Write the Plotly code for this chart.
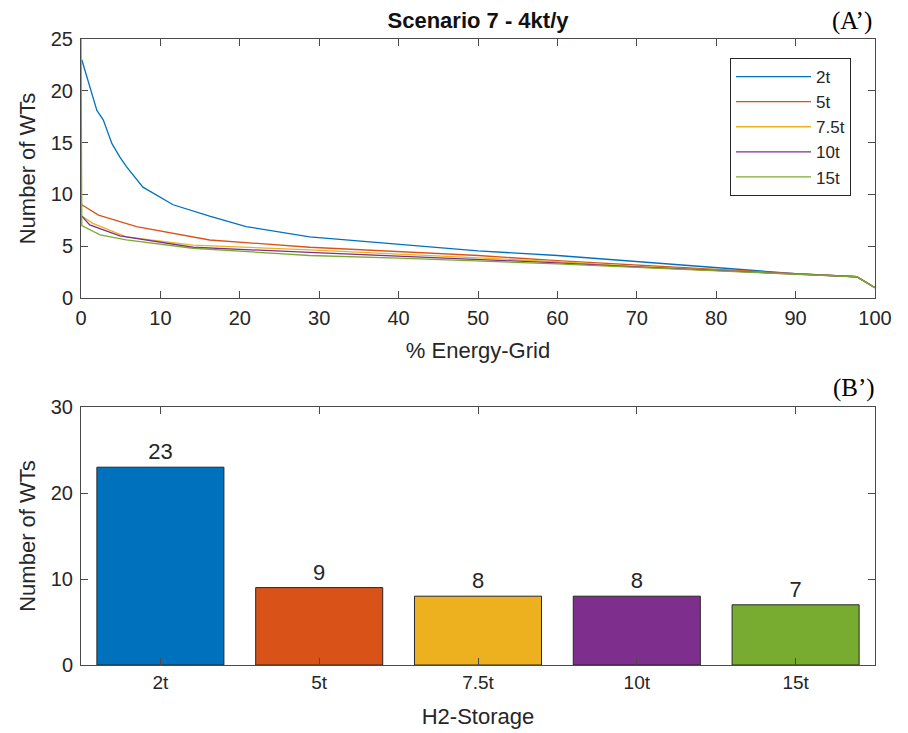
import plotly.graph_objects as go

# ---------------- data ----------------
series_names = ["2t", "5t", "7.5t", "10t", "15t"]
series_colors = ["#0072BD", "#D95319", "#EDB120", "#7E2F8E", "#77AC30"]

x_2t = [0.1, 1.1, 2.0, 2.8, 3.9, 4.9, 5.7, 7.8, 9.9, 11.6, 16.2, 20.8, 28.8, 40, 50, 60, 70, 80, 90, 97.7, 100]
y_2t = [23, 20.4, 18.1, 17.2, 14.9, 13.6, 12.7, 10.7, 9.8, 9.0, 7.9, 6.9, 5.9, 5.2, 4.55, 4.1, 3.5, 2.9, 2.35, 2.05, 1.0]

x_5t = [0.1, 2.2, 7.0, 11.6, 16.2, 28.8, 40, 50, 60, 70, 80, 90, 97.7, 100]
y_5t = [9.0, 8.0, 6.9, 6.25, 5.6, 4.9, 4.45, 4.1, 3.6, 3.15, 2.75, 2.35, 2.05, 1.0]

x_75t = [0.1, 1.5, 5.7, 14.1, 28.8, 40, 50, 60, 70, 80, 90, 97.7, 100]
y_75t = [7.9, 7.2, 5.9, 5.1, 4.65, 4.25, 3.9, 3.5, 3.05, 2.7, 2.3, 2.05, 1.0]

x_10t = [0.1, 1.1, 4.9, 14.1, 28.8, 40, 50, 60, 70, 80, 90, 97.7, 100]
y_10t = [7.9, 7.05, 6.0, 4.9, 4.4, 4.05, 3.75, 3.4, 3.0, 2.65, 2.3, 2.05, 1.0]

x_15t = [0, 0.1, 2.4, 5.7, 14.1, 28.8, 40, 50, 60, 70, 80, 90, 97.7, 100]
y_15t = [26, 7.0, 6.1, 5.6, 4.8, 4.1, 3.85, 3.6, 3.3, 2.95, 2.6, 2.25, 2.05, 1.0]

bar_categories = ["2t", "5t", "7.5t", "10t", "15t"]
bar_values = [23, 9, 8, 8, 7]

x_ticks_top = [0, 10, 20, 30, 40, 50, 60, 70, 80, 90, 100]
y_ticks_top = [0, 5, 10, 15, 20, 25]
y_ticks_bottom = [0, 10, 20, 30]

# ---------------- figure ----------------
FONT = "Liberation Sans, Arial, Helvetica, sans-serif"
TXT = "#262626"
AX = "#4a4a4a"

fig = go.Figure()

xs = [x_2t, x_5t, x_75t, x_10t, x_15t]
ys = [y_2t, y_5t, y_75t, y_10t, y_15t]
for name, col, xx, yy in zip(series_names, series_colors, xs, ys):
    fig.add_trace(go.Scatter(x=xx, y=yy, mode="lines", name=name,
                             line=dict(color=col, width=1.3),
                             xaxis="x", yaxis="y"))

fig.add_trace(go.Bar(x=bar_categories, y=bar_values, marker=dict(color=series_colors,
                     line=dict(color=TXT, width=1)),
                     width=0.8, text=[str(v) for v in bar_values], textposition="outside",
                     textfont=dict(family=FONT, size=22, color=TXT),
                     cliponaxis=False, showlegend=False, xaxis="x2", yaxis="y2"))

W, H = 908, 733
def px_x(a, b):
    return [a / W, b / W]
def px_y(top, bottom):
    return [1 - bottom / H, 1 - top / H]

axis_common = dict(showline=True, linecolor=AX, linewidth=1, mirror="allticks",
                   ticks="inside", ticklen=7, tickcolor=AX, tickwidth=1,
                   showgrid=False, zeroline=False, automargin=False,
                   tickfont=dict(family=FONT, size=20, color=TXT))

title_font = dict(family=FONT, size=22, color=TXT)

fig.update_layout(
    width=W, height=H,
    margin=dict(l=0, r=0, t=0, b=0),
    paper_bgcolor="white", plot_bgcolor="white",
    font=dict(family=FONT, color=TXT),
    title=dict(text="<b>Scenario 7 - 4kt/y</b>", x=478 / W, y=1 - 20 / H,
               xanchor="center", yanchor="middle", automargin=False,
               font=dict(family=FONT, size=22, color="#111111")),
    xaxis=dict(domain=px_x(81, 875), range=[0, 100], tickvals=x_ticks_top,
               title=dict(text="% Energy-Grid", font=title_font, standoff=14),
               anchor="y", ticklabelstandoff=2, **axis_common),
    yaxis=dict(domain=px_y(39, 298), range=[0, 25], tickvals=y_ticks_top,
               title=dict(text="Number of WTs", font=title_font, standoff=9),
               anchor="x", ticklabelstandoff=3, layer="below traces", **axis_common),
    xaxis2=dict(domain=px_x(81, 875), range=[-0.5, 4.5], type="category",
                title=dict(text="H2-Storage", font=title_font, standoff=16),
                anchor="y2", **{**axis_common, "tickfont": dict(family=FONT, size=19, color=TXT)}),
    yaxis2=dict(domain=px_y(407, 665), range=[0, 30], tickvals=y_ticks_bottom,
                title=dict(text="Number of WTs", font=title_font, standoff=9),
                anchor="x2", ticklabelstandoff=3, **axis_common),
    legend=dict(x=730 / W, y=1 - 58 / H, xanchor="left", yanchor="top",
                bordercolor=TXT, borderwidth=1, bgcolor="white", itemwidth=75,
                font=dict(family=FONT, size=17, color=TXT), tracegroupgap=0),
    showlegend=True,
    bargap=0.2,
    annotations=[
        dict(text="(A’)", x=874 / W, y=1 - 21 / H, xref="paper", yref="paper",
             xanchor="right", yanchor="middle", showarrow=False,
             font=dict(family="Liberation Serif, Times New Roman, serif", size=25, color="#000000")),
        dict(text="(B’)", x=877 / W, y=1 - 388 / H, xref="paper", yref="paper",
             xanchor="right", yanchor="middle", showarrow=False,
             font=dict(family="Liberation Serif, Times New Roman, serif", size=25, color="#000000")),
    ],
)

fig.write_html("out.html", config={"displayModeBar": False},
               post_script="document.body.style.margin='0px';document.body.style.overflow='hidden';")
